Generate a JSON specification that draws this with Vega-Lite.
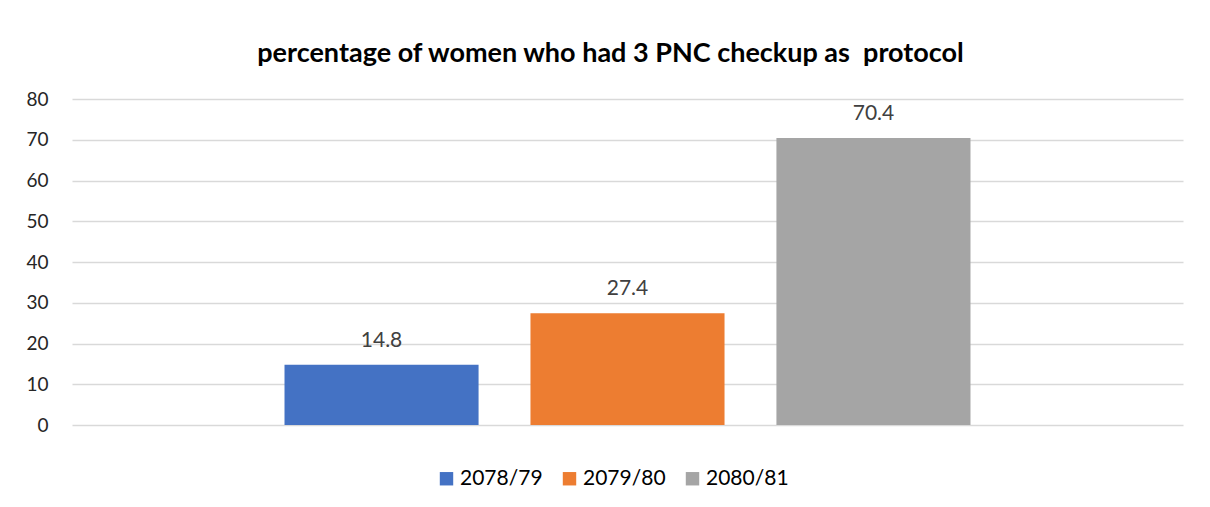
{
  "$schema": "https://vega.github.io/schema/vega-lite/v6.json",
  "width": 1111,
  "height": 326,
  "autosize": {"type": "none"},
  "padding": {"left": 72, "top": 99, "right": 27, "bottom": 82},
  "background": "white",
  "config": {"view": {"stroke": null}, "font": "Lato"},
  "title": {
    "text": "percentage of women who had 3 PNC checkup as \u00a0protocol",
    "font": "Lato",
    "fontSize": 27,
    "fontWeight": "bold",
    "color": "#000000",
    "anchor": "middle",
    "dx": -17,
    "offset": 22
  },
  "data": {
    "values": [
      {"year": "2078/79", "value": 14.8},
      {"year": "2079/80", "value": 27.4},
      {"year": "2080/81", "value": 70.4}
    ]
  },
  "encoding": {
    "x": {
      "field": "year",
      "type": "nominal",
      "scale": {"paddingInner": 0.211, "paddingOuter": 0.864},
      "axis": null
    },
    "y": {
      "field": "value",
      "type": "quantitative",
      "scale": {"domain": [0, 80]},
      "axis": {
        "title": null,
        "values": [0, 10, 20, 30, 40, 50, 60, 70, 80],
        "domain": false,
        "ticks": false,
        "labelPadding": 24,
        "labelFontSize": 19,
        "labelColor": "#262626",
        "labelFont": "Lato",
        "gridColor": "#D9D9D9",
        "gridWidth": 1.3
      }
    }
  },
  "layer": [
    {
      "mark": {"type": "bar"},
      "encoding": {
        "color": {
          "field": "year",
          "type": "nominal",
          "scale": {"range": ["#4472C4", "#ED7D31", "#A5A5A5"]},
          "legend": {
            "title": null,
            "orient": "none",
            "direction": "horizontal",
            "legendX": 364,
            "legendY": 369,
            "symbolType": "square",
            "symbolSize": 180,
            "symbolStrokeWidth": 0,
            "labelFontSize": 21,
            "labelFont": "Lato",
            "labelColor": "#000000",
            "labelOffset": 3,
            "columnPadding": 16
          }
        }
      }
    },
    {
      "mark": {"type": "text", "baseline": "alphabetic", "dy": -18, "fontSize": 21, "color": "#404040", "font": "Lato"},
      "encoding": {"text": {"field": "value", "type": "quantitative", "format": ".1f"}}
    }
  ]
}
